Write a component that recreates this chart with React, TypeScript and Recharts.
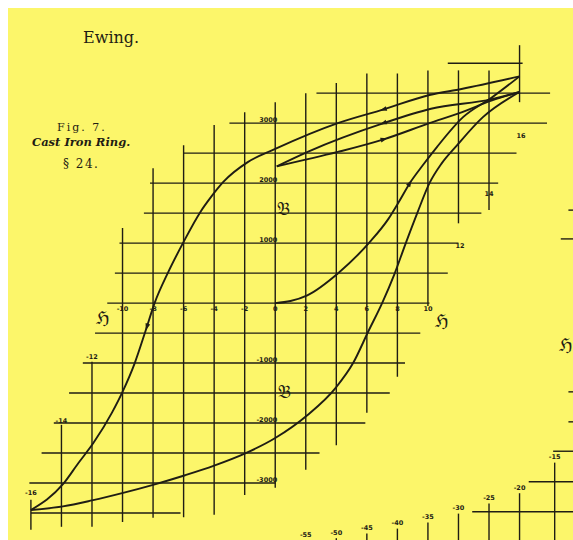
import React from 'react';
import { LineChart, Line, XAxis, YAxis, ReferenceLine, ReferenceDot } from 'recharts';

const INK = '#1f1d14';
const PAPER = '#fcf66a';

const W = 565;
const HT = 532;
const H_MIN = -17.5;
const H_MAX = 19.5;
const B_MIN = -3950;
const B_MAX = 4920;
// pixels per unit, only used to turn arrow heads along their curve
const PX_H = W / (H_MAX - H_MIN);
const PX_B = HT / (B_MAX - B_MIN);

// initial magnetisation from the demagnetised state
const virginH = [0, 1, 2.1, 4.1, 6.2, 7.4, 8.1, 8.8, 9.7, 10.6, 12.3, 14.2, 16];
const virginB = [0, 35, 130, 495, 1020, 1400, 1690, 1995, 2310, 2605, 3100, 3430, 3780];

// descending branch of the full cycle (listed by rising H)
const descH = [-16, -13.9, -12.9, -11.9, -10.7, -10.0, -9.2, -8.5, -7.9, -7, -6, -4.9, -4.2, -3.4, -1.8, 0, 4.1, 7.1, 10.1, 12.2, 16];
const descB = [-3450, -3020, -2670, -2330, -1830, -1480, -1000, -470, 0, 520, 1020, 1520, 1770, 2020, 2350, 2570, 3000, 3230, 3470, 3570, 3780];

// ascending branch of the full cycle
const ascH = [-16, -13.9, -12, -9.9, -8, -5.9, -4, -2, 0, 2.1, 4, 5.1, 6.1, 7, 7.8, 8.55, 9.3, 10.1, 10.9, 11.9, 13.6, 16];
const ascB = [-3450, -3390, -3290, -3160, -3030, -2870, -2710, -2510, -2250, -1870, -1400, -1000, -470, 0, 480, 1000, 1500, 2000, 2330, 2630, 3100, 3520];

// small cycle between H = 0 and H = 16
const minorUpH = [0.1, 4.1, 7.1, 10.1, 12.2, 14.2, 16];
const minorUpB = [2280, 2520, 2730, 3000, 3180, 3380, 3520];
const minorDownH = [0.1, 2.2, 7.1, 10.2, 14.2, 16];
const minorDownB = [2280, 2530, 3000, 3240, 3400, 3520];

// ruled lines: rows [B, from H, to H], columns [H, from B, to B]
const rows = [
  [4000, 11.3, 16.2], [3500, 2.7, 18], [3000, -3, 17.8], [2500, -6, 15.8],
  [2000, -8.2, 14.6], [1500, -8.6, 13.5], [1000, -10.2, 12], [500, -10.5, 11.3],
  [0, -11, 10.1], [-500, -11.8, 9.5], [-1000, -12.6, 8.5], [-1500, -13.5, 7.5],
  [-2000, -14.5, 5.9], [-2500, -15.3, 2.9], [-3000, -16.1, 0], [-3500, -16, -6.2],
];
const cols = [
  [-16, -3280, -3780], [-14, -2030, -3730], [-12, -980, -3730], [-10, 1250, -3650],
  [-8, 2250, -3580], [-6, 2630, -3570], [-4, 2970, -3530], [-2, 3180, -3200],
  [0, 3350, -3080], [2, 3500, -2780], [4, 3670, -2370], [6, 3830, -1830],
  [8, 3830, -1230], [10, 3880, -50], [12, 3880, 1330], [14, 3880, 1550], [16, 4300, 3350],
];

const hTicks = [-10, -8, -6, -4, -2, 0, 2, 4, 6, 8, 10];
const bTicks = [3000, 2000, 1000, -1000, -2000, -3000];
// H values written at the loose ends of the ruling
const endTags: [number, number, number][] = [
  [-12, -12, -900], [-14, -14, -1960], [-16, -16, -3160],
  [12, 12.1, 960], [14, 14, 1820], [16, 16.1, 2790],
];

// ruling of the next figure, cut by the page edge
const nextTicks = ['-15', '-20', '-25', '-30', '-35', '-40', '-45', '-50', '-55'];
const nextTickH = [18.3, 16, 14, 12, 10, 8, 6, 4, 2];
const nextTickB = [-2570, -3080, -3250, -3420, -3570, -3670, -3750, -3830, -3870];
const nextRows = [[-2470, 18.2], [-2980, 16.6], [-3480, 12.9], [1550, 19.2], [1070, 18.7], [-1480, 19.2], [-1980, 19.2]];

const arrows = [
  { h: virginH, b: virginB, at: 8.8, dir: 1 },
  { h: descH, b: descB, at: 7.1, dir: -1 },
  { h: minorDownH, b: minorDownB, at: 7.1, dir: -1 },
  { h: minorUpH, b: minorUpB, at: 7.1, dir: 1 },
  { h: descH, b: descB, at: -8.4, dir: -1 },
];

const pts = (hs: number[], bs: number[]) => hs.map((h, i) => ({ h, b: bs[i] }));

const onCurve = (hs: number[], bs: number[], h: number) => {
  for (let i = 0; i < hs.length - 1; i++) {
    if (h >= hs[i] && h <= hs[i + 1]) {
      const t = (h - hs[i]) / (hs[i + 1] - hs[i]);
      return { b: bs[i] + t * (bs[i + 1] - bs[i]), slope: (bs[i + 1] - bs[i]) / (hs[i + 1] - hs[i]) };
    }
  }
  return { b: bs[0], slope: 0 };
};

const curves = [
  pts(virginH, virginB),
  pts(descH, descB),
  pts(ascH, ascB),
  pts(minorUpH, minorUpB),
  pts(minorDownH, minorDownB),
];

const tiny = { fontFamily: 'DejaVu Sans', fontWeight: 700, fill: INK } as const;
const fraktur = { fontFamily: 'DejaVu Serif', fill: INK, fontSize: 18 } as const;

const textAt = (txt: string, size: number, anchor: string, dx: number, dy: number, style: any = tiny) =>
  (p: any) => (
    <text x={p.cx + dx} y={p.cy + dy} fontSize={size} textAnchor={anchor} {...style}>{txt}</text>
  );

export default function App() {
  return (
    <div style={{ position: 'absolute', left: 8, top: 8, width: W, height: HT, background: PAPER, overflow: 'hidden' }}>
      <LineChart width={W} height={HT} margin={{ top: 0, right: 0, bottom: 0, left: 0 }}>
        <XAxis type="number" dataKey="h" domain={[H_MIN, H_MAX]} allowDataOverflow hide />
        <YAxis type="number" dataKey="b" domain={[B_MIN, B_MAX]} allowDataOverflow hide />

        {rows.map(([b, a, z], i) => (
          <ReferenceLine key={'r' + i} segment={[{ x: a, y: b }, { x: z, y: b }]} stroke={INK} strokeWidth={1.4} />
        ))}
        {cols.map(([h, a, z], i) => (
          <ReferenceLine key={'c' + i} segment={[{ x: h, y: a }, { x: h, y: z }]} stroke={INK} strokeWidth={1.4} />
        ))}
        {nextTickH.map((h, i) => (
          <ReferenceLine key={'nc' + i} segment={[{ x: h, y: nextTickB[i] - 90 }, { x: h, y: B_MIN }]} stroke={INK} strokeWidth={1.4} ifOverflow="visible" />
        ))}
        {nextRows.map(([b, a], i) => (
          <ReferenceLine key={'nr' + i} segment={[{ x: a, y: b }, { x: H_MAX, y: b }]} stroke={INK} strokeWidth={1.4} />
        ))}

        {curves.map((d, i) => (
          <Line key={'l' + i} data={d} dataKey="b" type="monotone" stroke={INK} strokeWidth={1.9}
            dot={false} activeDot={false} isAnimationActive={false} />
        ))}

        {hTicks.map((h) => (
          <ReferenceDot key={'ht' + h} x={h} y={0} r={0} shape={textAt(String(h), 6.5, 'middle', 0, 8)} />
        ))}
        {bTicks.map((b) => (
          <ReferenceDot key={'bt' + b} x={0} y={b} r={0} shape={textAt(String(b), 6.5, 'end', 2, -1)} />
        ))}
        {endTags.map(([v, h, b]) => (
          <ReferenceDot key={'et' + v} x={h} y={b} r={0} shape={textAt(String(v), 6.5, 'middle', 0, 2)} />
        ))}
        {nextTicks.map((t, i) => (
          <ReferenceDot key={'nt' + t} x={nextTickH[i]} y={nextTickB[i]} r={0} ifOverflow="visible"
            shape={textAt(t, 6.5, 'middle', 0, 2)} />
        ))}

        <ReferenceDot x={-11.3} y={-250} r={0} shape={textAt('ℌ', 18, 'middle', 0, 6, fraktur)} />
        <ReferenceDot x={10.9} y={-300} r={0} shape={textAt('ℌ', 18, 'middle', 0, 6, fraktur)} />
        <ReferenceDot x={18.6} y={-700} r={0} shape={textAt('ℌ', 18, 'start', 0, 6, fraktur)} />
        <ReferenceDot x={0.1} y={1570} r={0} shape={textAt('𝔅', 17, 'start', 0, 6, fraktur)} />
        <ReferenceDot x={0.2} y={-1480} r={0} shape={textAt('𝔅', 17, 'start', 0, 6, fraktur)} />

        {arrows.map((a, i) => {
          const { b, slope } = onCurve(a.h, a.b, a.at);
          const ang = Math.atan2(-slope * PX_B * a.dir, PX_H * a.dir);
          return (
            <ReferenceDot key={'a' + i} x={a.at} y={b} r={0} shape={(p: any) => {
              const c = Math.cos(ang), s = Math.sin(ang);
              const tip = [p.cx + 4 * c, p.cy + 4 * s];
              const l = [p.cx - 3 * c - 2.4 * s, p.cy - 3 * s + 2.4 * c];
              const r = [p.cx - 3 * c + 2.4 * s, p.cy - 3 * s - 2.4 * c];
              return <polygon points={`${tip} ${l} ${r}`} fill={INK} />;
            }} />
          );
        })}
      </LineChart>

      <svg width={W} height={HT} style={{ position: 'absolute', left: 0, top: 0, pointerEvents: 'none' }}>
        <text x={75} y={35} fontFamily="DejaVu Serif" fontSize={16} fill={INK}>Ewing.</text>
        <text x={49} y={123} fontFamily="DejaVu Serif" fontSize={11} letterSpacing={2} fill={INK}>Fig. 7.</text>
        <text x={24} y={138} fontFamily="DejaVu Serif" fontSize={11.5} fontStyle="italic" fontWeight={700} fill={INK}>Cast Iron Ring.</text>
        <text x={55} y={160} fontFamily="DejaVu Serif" fontSize={12} letterSpacing={1.5} fill={INK}>§ 24.</text>
      </svg>
    </div>
  );
}
